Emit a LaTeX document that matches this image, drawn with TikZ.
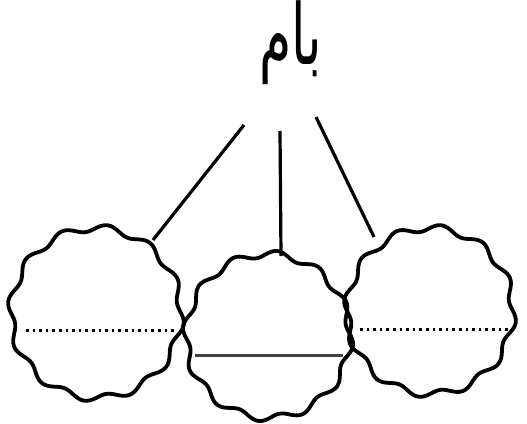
\documentclass[tikz,border=0pt]{standalone}
\usepackage{fontspec}
\newfontfamily\arabicfont[Script=Arabic]{DejaVu Sans}
\TeXXeTstate=1
\tikzset{
  wavy/.style={line width=3.8pt, line join=round},
  conn/.style={line width=3.2pt},
  dotline/.style={line width=3pt, dash pattern=on 2.6pt off 4pt},
  solidline/.style={line width=3pt, black!75},
}
\begin{document}
\begin{tikzpicture}[x=1pt,y=-1pt]
\fill[white] (0,0) rectangle (527,423);
\useasboundingbox (0,0) rectangle (527,423);
\node[inner sep=0pt, anchor=base, xscale=0.62] (word) at (291,64) {\fontsize{84}{84}\arabicfont\beginR بام\endR};
% circles
\coordinate (cl) at (96,313);
\coordinate (cm) at (268,336);
\coordinate (cr) at (430,311);
\draw[wavy] plot[domain=0:360, samples=181, smooth cycle] ({96+(85+3.5*sin(12*\x))*cos(\x)},{313+(85+3.5*sin(12*\x))*sin(\x)});
\draw[wavy] plot[domain=0:360, samples=181, smooth cycle] ({430+(83+3.5*sin(12*\x))*cos(\x)},{311+(83+3.5*sin(12*\x))*sin(\x)});
\draw[wavy] plot[domain=0:360, samples=181, smooth cycle] ({268+(82+3.5*sin(12*\x+15))*cos(\x)},{336+(82+3.5*sin(12*\x+15))*sin(\x)});
% connectors
\coordinate (wl) at (244,125);
\coordinate (wm) at (280,131);
\coordinate (wr) at (316,117);
\coordinate (el) at (153,240);
\coordinate (em) at (281,256);
\coordinate (er) at (374,237);
\draw[conn] (wl) -- (el);
\draw[conn] (wm) -- (em);
\draw[conn] (wr) -- (er);
% inner lines
\coordinate (l1) at (26,330); \coordinate (l2) at (174,330);
\coordinate (m1) at (195,355); \coordinate (m2) at (343,355);
\coordinate (r1) at (360,329); \coordinate (r2) at (508,329);
\draw[dotline] (l1) -- (l2);
\draw[solidline] (m1) -- (m2);
\draw[dotline] (r1) -- (r2);
\end{tikzpicture}
\end{document}
